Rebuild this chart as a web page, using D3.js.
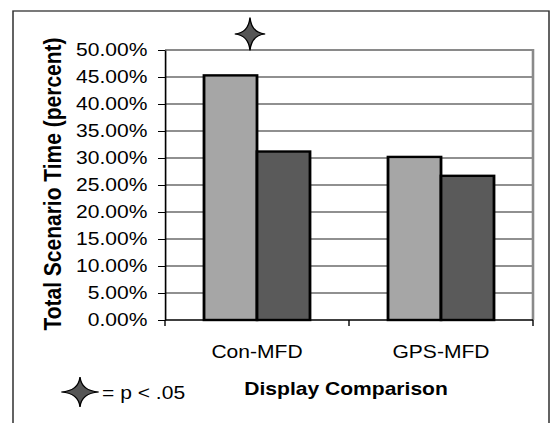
<!DOCTYPE html>
<meta charset="utf-8">
<script src="https://d3js.org/d3.v7.min.js"></script>
<style>
body { margin: 0; background: #fff; }
text { font-family: "Liberation Sans", Arial, sans-serif; fill: #000; }
</style>
<div id="chart"></div>
<script>

// values
var categories = ["Con-MFD", "GPS-MFD"];
var seriesLight = [45.3, 30.2];
var seriesDark = [31.2, 26.7];
var yTicks = [0, 5, 10, 15, 20, 25, 30, 35, 40, 45, 50];
var significant = ["Con-MFD"];

// the original picture is stretched sideways, so draw in narrow units and scale x
var sx = 1.17;
var W = 553, H = 423;
var margin = {top: 50, left: 165 / sx},
    width = (533 - 165) / sx,
    height = 270;

var svg = d3.select("#chart")
  .append("svg")
    .attr("width", W)
    .attr("height", H);

var root = svg.append("g")
    .attr("transform", "scale(" + sx + ",1)");

// outer frame
root.append("rect")
    .attr("x", 13 / sx)
    .attr("y", 11)
    .attr("width", (549 - 13) / sx)
    .attr("height", 430)
    .attr("fill", "none")
    .attr("stroke", "#333")
    .attr("stroke-width", 1.3);

var g = root.append("g")
    .attr("transform", "translate(" + margin.left + "," + margin.top + ")");

var x0 = d3.scaleBand()
  .domain(categories)
  .range([0, width])
  .paddingInner(0.424)
  .paddingOuter(0.212);

var x1 = d3.scaleBand()
  .domain(["light", "dark"])
  .range([0, x0.bandwidth()]);

var y = d3.scaleLinear()
  .domain([0, 50])
  .range([height, 0]);

// gridlines
g.selectAll(".grid")
  .data(yTicks.filter(function(d) { return d > 0 && d < 50; }))
  .enter()
  .append("line")
    .attr("x1", 0)
    .attr("x2", width)
    .attr("y1", function(d) { return y(d); })
    .attr("y2", function(d) { return y(d); })
    .attr("stroke", "#222")
    .attr("stroke-width", 1);

// top and right frame of plot area (grey)
g.append("path")
    .attr("d", "M0," + y(50) + "H" + width + "V" + height)
    .attr("fill", "none")
    .attr("stroke", "#8a8a8a")
    .attr("stroke-width", 2.2);

// bars
var rows = categories.map(function(c, i) {
  return {cat: c, light: seriesLight[i], dark: seriesDark[i]};
});

var groups = g.selectAll(".grp")
  .data(rows)
  .enter()
  .append("g")
    .attr("transform", function(d) { return "translate(" + x0(d.cat) + ",0)"; });

groups.selectAll("rect")
  .data(function(d) { return [{k: "light", v: d.light}, {k: "dark", v: d.dark}]; })
  .enter()
  .append("rect")
    .attr("x", function(d) { return x1(d.k); })
    .attr("y", function(d) { return y(d.v); })
    .attr("width", x1.bandwidth())
    .attr("height", function(d) { return height - y(d.v); })
    .attr("fill", function(d) { return d.k == "light" ? "#a6a6a6" : "#5a5a5a"; })
    .attr("stroke", "#000")
    .attr("stroke-width", 2.4);

// y axis
var yAxis = g.append("g")
  .call(d3.axisLeft(y)
    .tickValues(yTicks)
    .tickFormat(function(d) { return d.toFixed(2) + "%"; })
    .tickSize(6)
    .tickSizeOuter(0)
    .tickPadding(9));

yAxis.select(".domain").attr("stroke", "#000").attr("stroke-width", 1.4);
yAxis.selectAll(".tick line").attr("stroke", "#000");
yAxis.selectAll("text")
    .style("font-size", "18px")
    .attr("fill", "#000");

// x axis: line plus ticks at the band boundaries
g.append("line")
    .attr("x1", 0).attr("x2", width)
    .attr("y1", height).attr("y2", height)
    .attr("stroke", "#000")
    .attr("stroke-width", 1.6);

var bounds = [0].concat(categories.map(function(c) { return x0(c) - x0.step() * x0.paddingOuter() + x0.step(); }));
g.selectAll(".xtick")
  .data(bounds)
  .enter()
  .append("line")
    .attr("x1", function(d) { return d; })
    .attr("x2", function(d) { return d; })
    .attr("y1", height)
    .attr("y2", height + 6)
    .attr("stroke", "#000")
    .attr("stroke-width", 1.2);

g.selectAll(".xlabel")
  .data(categories)
  .enter()
  .append("text")
    .attr("x", function(d) { return x0(d) + x0.bandwidth() / 2; })
    .attr("y", height + 38)
    .attr("text-anchor", "middle")
    .style("font-size", "18px")
    .text(function(d) { return d; });

// axis titles
g.append("text")
    .attr("x", width / 2 - 2.5)
    .attr("y", height + 75)
    .attr("text-anchor", "middle")
    .style("font-size", "18px")
    .style("font-weight", "bold")
    .text("Display Comparison");

root.append("text")
    .attr("transform", "translate(" + (61 / sx) + "," + (margin.top + height / 2 - 1) + ")rotate(-90)")
    .attr("text-anchor", "middle")
    .style("font-size", "21px")
    .style("font-weight", "bold")
    .text("Total Scenario Time (percent)");

// significance star
function star(w, h) {
  var c = 1.2;
  return "M0," + (-h) +
    "Q" + c + "," + (-c) + " " + w + ",0" +
    "Q" + c + "," + c + " 0," + h +
    "Q" + (-c) + "," + c + " " + (-w) + ",0" +
    "Q" + (-c) + "," + (-c) + " 0," + (-h) + "Z";
}

g.selectAll(".sig")
  .data(significant)
  .enter()
  .append("path")
    .attr("transform", function(d) {
      return "translate(" + (x0(d) + x0.bandwidth() / 2 - 6) + "," + (y(50) - 16) + ")";
    })
    .attr("d", star(13, 16.5))
    .attr("fill", "#555")
    .attr("stroke", "#000")
    .attr("stroke-width", 1.2);

// legend
root.append("path")
    .attr("transform", "translate(" + (80 / sx) + ",392)")
    .attr("d", star(16, 15))
    .attr("fill", "#555")
    .attr("stroke", "#000")
    .attr("stroke-width", 1.2);

root.append("text")
    .attr("x", 102 / sx)
    .attr("y", 399)
    .style("font-size", "18px")
    .text("= p < .05");

</script>
